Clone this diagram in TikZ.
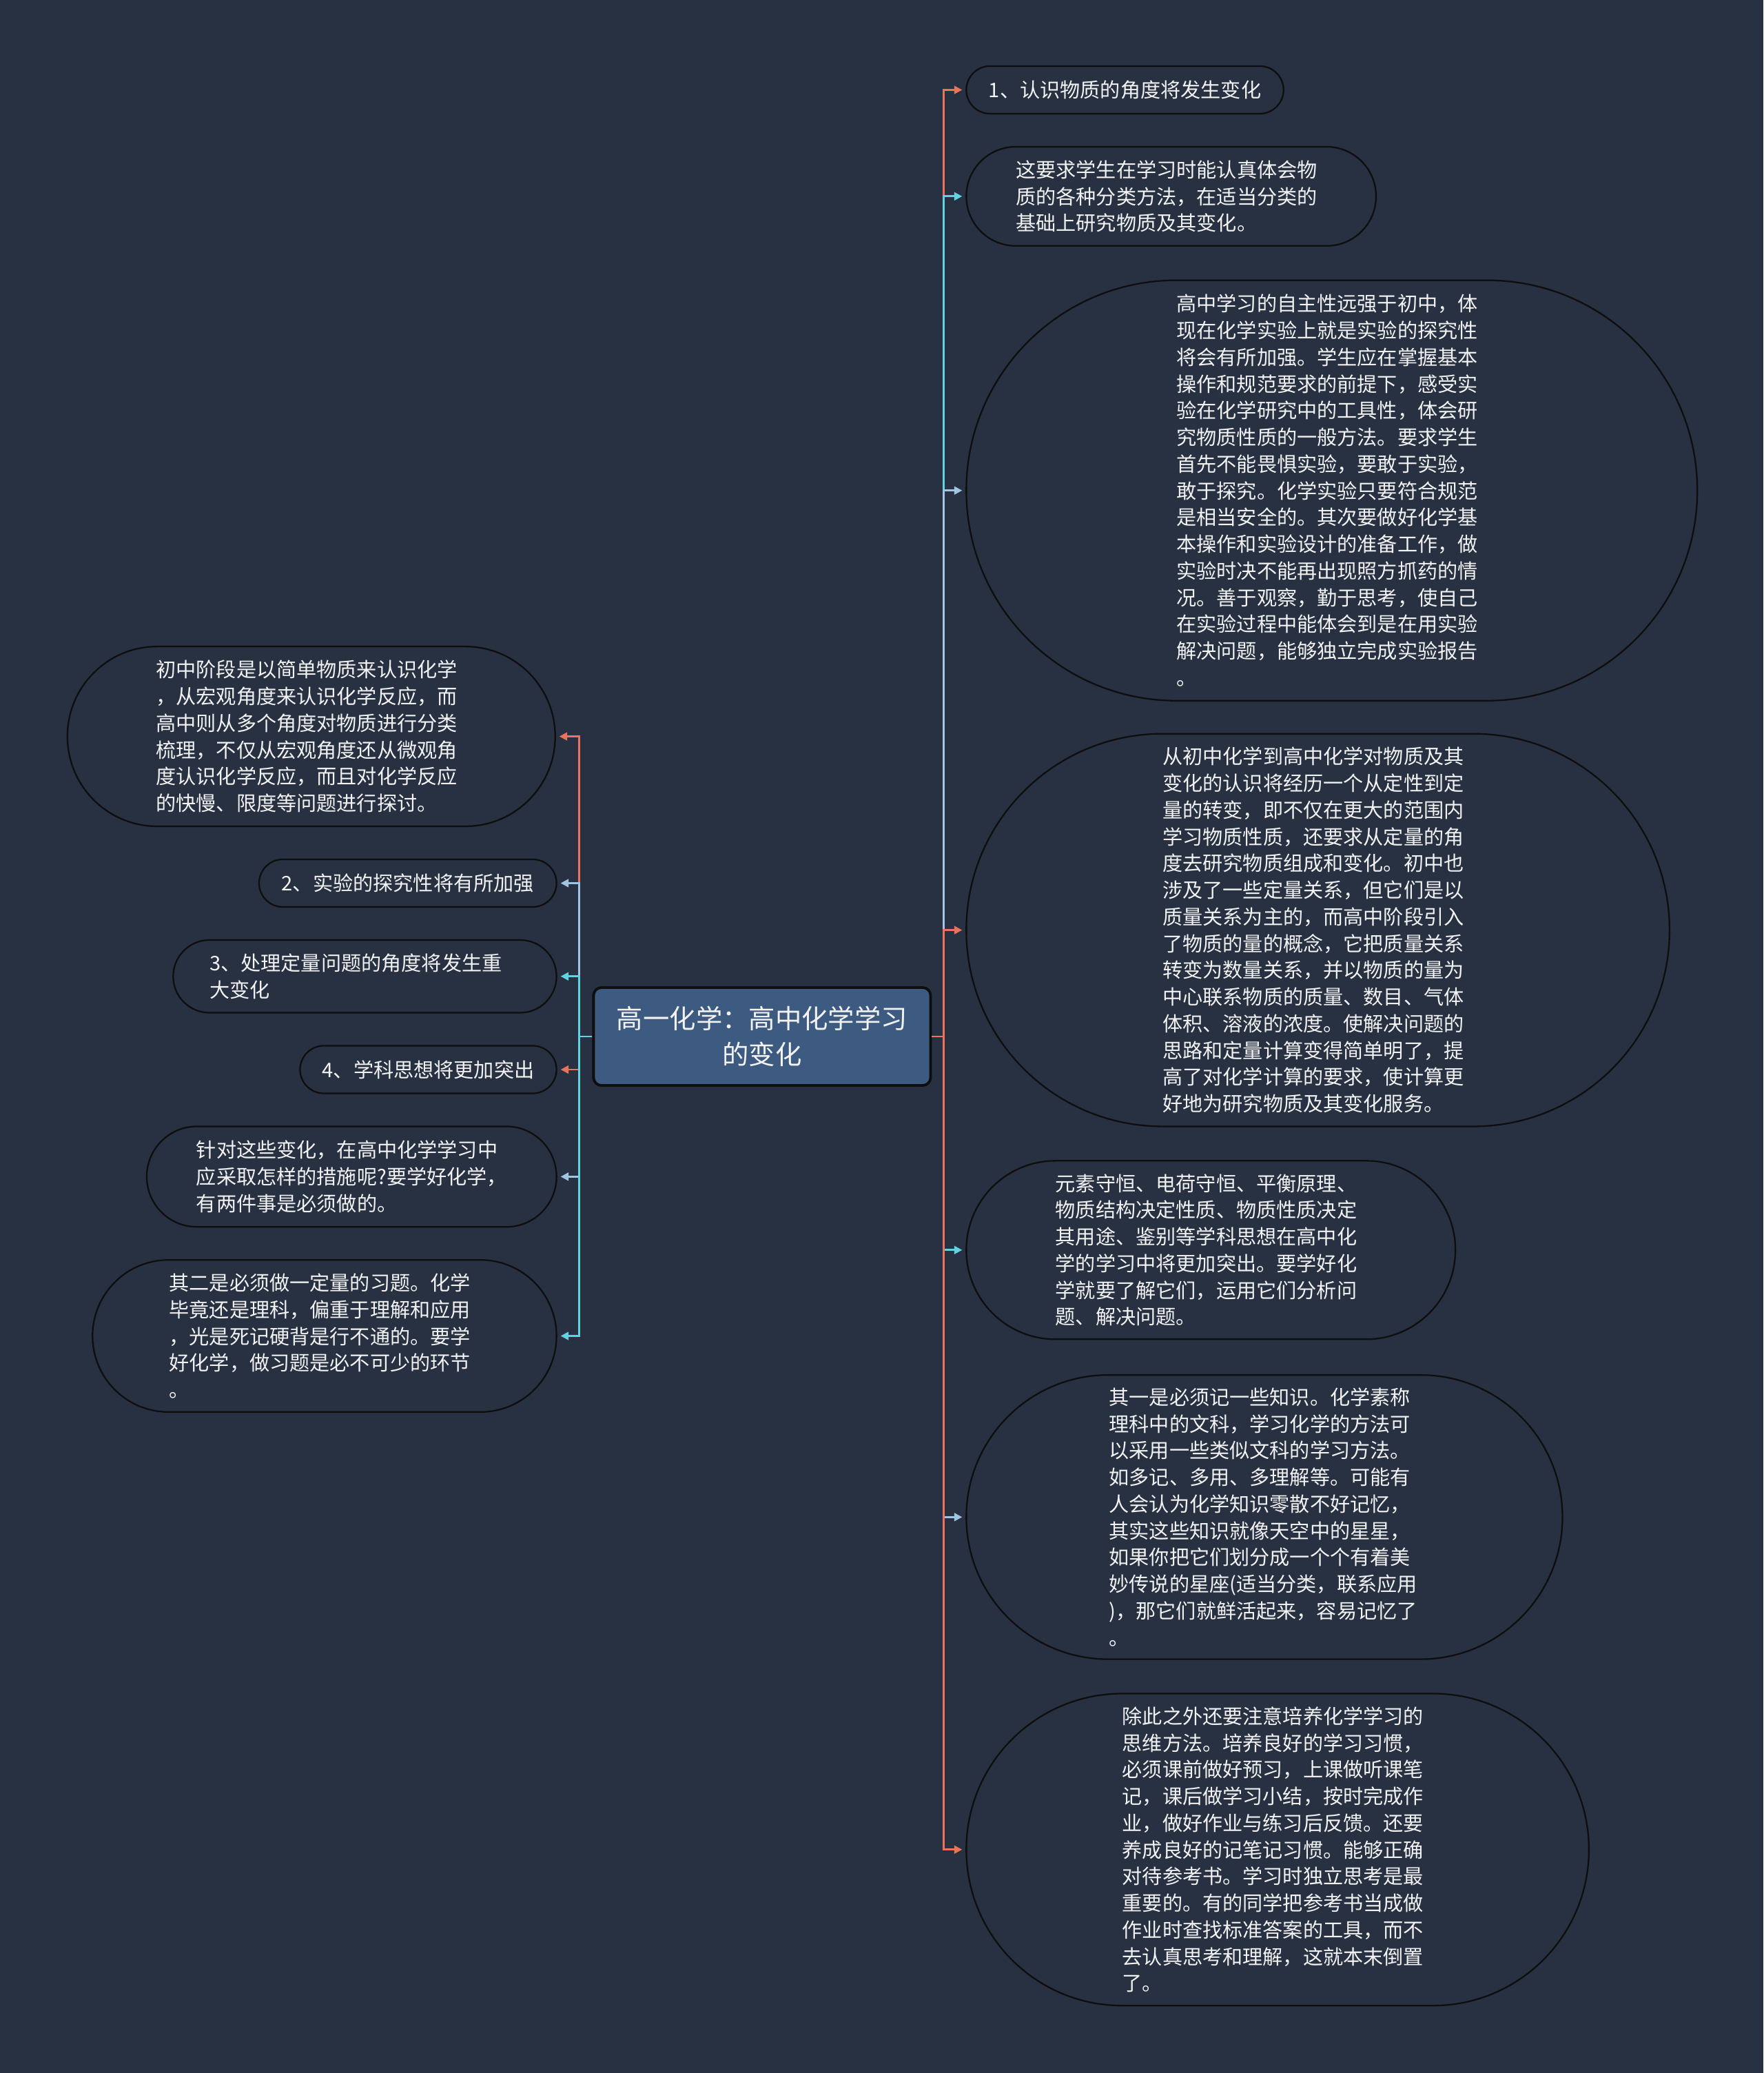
\documentclass[tikz,border=0pt]{standalone}
\usepackage{fontspec}
\setmainfont{Noto Sans CJK SC}
\usetikzlibrary{arrows.meta}
\definecolor{bg}{HTML}{283142}
\definecolor{rootfill}{HTML}{3D5A80}
\definecolor{txt}{HTML}{F2F2F2}
\definecolor{corange}{HTML}{E9735B}
\definecolor{ccyan}{HTML}{5FD4E0}
\definecolor{clblue}{HTML}{A0C4E4}
\definecolor{edge}{HTML}{0E0E0E}
\tikzset{
  bubble/.style={draw=edge, line width=1.2pt, fill=bg, text=txt, align=left,
    font=\fontsize{15.2}{20.2}\selectfont, inner sep=0pt},
  para/.style={bubble, text width=235pt},
  rootbox/.style={draw=edge, line width=2pt, fill=rootfill, text=txt, align=center,
    font=\fontsize{20}{27}\selectfont, inner sep=0pt, rounded corners=6pt,
    minimum width=255pt, minimum height=74pt},
  link/.style={line width=1.5pt, -{Triangle[length=6pt,width=6pt]}, shorten >=2.5pt},
}
\begin{document}
\begin{tikzpicture}[x=1pt,y=-1pt]
\fill[bg] (0,0) rectangle (1334,1568);
\useasboundingbox (0,0) rectangle (1334,1568);

\node[rootbox] (c) at (576.5,784) {高一化学：高中化学学习\\的变化};

% right side
\node[bubble, minimum width=240pt, minimum height=36pt, rounded corners=18pt] (r1) at (851,68)
 {1、认识物质的角度将发生变化};
\node[para, minimum width=310pt, minimum height=75pt, rounded corners=37.5pt] (r2) at (886,148.5)
 {这要求学生在学习时能认真体会物\\质的各种分类方法，在适当分类的\\基础上研究物质及其变化。};
\node[para, minimum width=553pt, minimum height=318pt, rounded corners=159pt] (r3) at (1007.5,371)
 {高中学习的自主性远强于初中，体\\现在化学实验上就是实验的探究性\\将会有所加强。学生应在掌握基本\\操作和规范要求的前提下，感受实\\验在化学研究中的工具性，体会研\\究物质性质的一般方法。要求学生\\首先不能畏惧实验，要敢于实验，\\敢于探究。化学实验只要符合规范\\是相当安全的。其次要做好化学基\\本操作和实验设计的准备工作，做\\实验时决不能再出现照方抓药的情\\况。善于观察，勤于思考，使自己\\在实验过程中能体会到是在用实验\\解决问题，能够独立完成实验报告\\。};
\node[para, minimum width=532pt, minimum height=297pt, rounded corners=148.5pt] (r4) at (997,703.5)
 {从初中化学到高中化学对物质及其\\变化的认识将经历一个从定性到定\\量的转变，即不仅在更大的范围内\\学习物质性质，还要求从定量的角\\度去研究物质组成和变化。初中也\\涉及了一些定量关系，但它们是以\\质量关系为主的，而高中阶段引入\\了物质的量的概念，它把质量关系\\转变为数量关系，并以物质的量为\\中心联系物质的质量、数目、气体\\体积、溶液的浓度。使解决问题的\\思路和定量计算变得简单明了，提\\高了对化学计算的要求，使计算更\\好地为研究物质及其变化服务。};
\node[para, minimum width=370pt, minimum height=135pt, rounded corners=67.5pt] (r5) at (916,945.5)
 {元素守恒、电荷守恒、平衡原理、\\物质结构决定性质、物质性质决定\\其用途、鉴别等学科思想在高中化\\学的学习中将更加突出。要学好化\\学就要了解它们，运用它们分析问\\题、解决问题。};
\node[para, minimum width=451pt, minimum height=215pt, rounded corners=107.5pt] (r6) at (956.5,1147.5)
 {其一是必须记一些知识。化学素称\\理科中的文科，学习化学的方法可\\以采用一些类似文科的学习方法。\\如多记、多用、多理解等。可能有\\人会认为化学知识零散不好记忆，\\其实这些知识就像天空中的星星，\\如果你把它们划分成一个个有着美\\妙传说的星座(适当分类，联系应用\\)，那它们就鲜活起来，容易记忆了\\。};
\node[para, minimum width=471pt, minimum height=236pt, rounded corners=118pt] (r7) at (966.5,1399)
 {除此之外还要注意培养化学学习的\\思维方法。培养良好的学习习惯，\\必须课前做好预习，上课做听课笔\\记，课后做学习小结，按时完成作\\业，做好作业与练习后反馈。还要\\养成良好的记笔记习惯。能够正确\\对待参考书。学习时独立思考是最\\重要的。有的同学把参考书当成做\\作业时查找标准答案的工具，而不\\去认真思考和理解，这就本末倒置\\了。};

% left side
\node[para, minimum width=369pt, minimum height=136pt, rounded corners=68pt] (l1) at (235.5,557)
 {初中阶段是以简单物质来认识化学\\，从宏观角度来认识化学反应，而\\高中则从多个角度对物质进行分类\\梳理，不仅从宏观角度还从微观角\\度认识化学反应，而且对化学反应\\的快慢、限度等问题进行探讨。};
\node[bubble, minimum width=225pt, minimum height=36pt, rounded corners=18pt] (l2) at (308.5,668)
 {2、实验的探究性将有所加强};
\node[para, minimum width=290pt, minimum height=55pt, rounded corners=27.5pt] (l3) at (276,738.5)
 {3、处理定量问题的角度将发生重\\大变化};
\node[bubble, minimum width=194pt, minimum height=36pt, rounded corners=18pt] (l4) at (324,809)
 {4、学科思想将更加突出};
\node[para, minimum width=310pt, minimum height=76pt, rounded corners=38pt] (l5) at (266,890)
 {针对这些变化，在高中化学学习中\\应采取怎样的措施呢?要学好化学，\\有两件事是必须做的。};
\node[para, minimum width=351pt, minimum height=115pt, rounded corners=57.5pt] (l6) at (245.5,1010.5)
 {其二是必须做一定量的习题。化学\\毕竟还是理科，偏重于理解和应用\\，光是死记硬背是行不通的。要学\\好化学，做习题是必不可少的环节\\。};

% connectors, right (top to bottom)
\draw[link, corange] (c.east) -- ++(9,0) |- (r1.west);
\draw[link, ccyan]   (c.east) -- ++(9,0) |- (r2.west);
\draw[link, clblue]  (c.east) -- ++(9,0) |- (r3.west);
\draw[link, corange] (c.east) -- ++(9,0) |- (r4.west);
\draw[link, ccyan]   (c.east) -- ++(9,0) |- (r5.west);
\draw[link, clblue]  (c.east) -- ++(9,0) |- (r6.west);
\draw[link, corange] (c.east) -- ++(9,0) |- (r7.west);
% connectors, left (top to bottom)
\draw[link, corange] (c.west) -- ++(-10,0) |- (l1.east);
\draw[link, clblue]  (c.west) -- ++(-10,0) |- (l2.east);
\draw[link, ccyan]   (c.west) -- ++(-10,0) |- (l3.east);
\draw[link, corange] (c.west) -- ++(-10,0) |- (l4.east);
\draw[link, clblue]  (c.west) -- ++(-10,0) |- (l5.east);
\draw[link, ccyan]   (c.west) -- ++(-10,0) |- (l6.east);
\end{tikzpicture}
\end{document}
